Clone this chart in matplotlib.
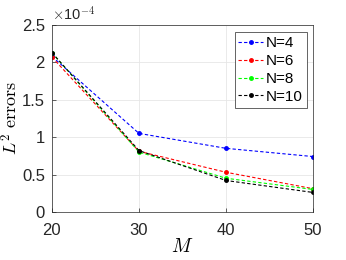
import matplotlib.pyplot as plt
import numpy as np

plt.rcParams['font.family'] = ['Liberation Sans', 'DejaVu Sans']
plt.rcParams['mathtext.fontset'] = 'cm'

# data (errors in units of 1e-4)
M = np.array([20, 30, 40, 50])
err_n4 = np.array([2.08, 1.05, 0.85, 0.74])
err_n6 = np.array([2.07, 0.81, 0.53, 0.31])
err_n8 = np.array([2.13, 0.80, 0.45, 0.30])
err_n10 = np.array([2.13, 0.82, 0.42, 0.26])
labels = ['N=4', 'N=6', 'N=8', 'N=10']
colors = ['blue', 'red', 'lime', 'black']

fig = plt.figure(figsize=(3.46, 2.6), dpi=100)
ax = fig.add_axes([0.150, 0.185, 0.755, 0.719])

for y, lab, c in zip([err_n4, err_n6, err_n8, err_n10], labels, colors):
    ax.plot(M, y, color=c, linestyle=(0, (3, 2)), marker='o', markersize=2.5,
            linewidth=0.8, label=lab)

ax.set_xlim(20, 50)
ax.set_ylim(0, 2.5)
ax.set_xticks([20, 30, 40, 50])
ax.set_yticks([0, 0.5, 1, 1.5, 2, 2.5])
ax.set_yticklabels(['0', '0.5', '1', '1.5', '2', '2.5'])
ax.tick_params(labelsize=12, direction='in', length=3, width=0.5,
               colors='#262626', pad=5)
ax.tick_params(axis='x', pad=8)
ax.grid(True, color='#e6e6e6', linewidth=0.6)
for s in ax.spines.values():
    s.set_color('#262626')
    s.set_linewidth(0.5)

ax.set_xlabel(r'$M$', fontsize=14, labelpad=0)
ax.set_ylabel(r'$L^2\ \mathrm{errors}$', fontsize=13)
ax.yaxis.set_label_coords(-0.115, 0.5)
ax.text(0.0, 1.01, r'$\times$10$^{-4}$', transform=ax.transAxes,
        fontsize=10.5, ha='left', va='bottom', color='#262626',
        family=['Liberation Sans'])

leg = ax.legend(loc='upper right', fontsize=11, handlelength=1.6,
                handletextpad=0.2, borderpad=0.25, labelspacing=0.25,
                borderaxespad=0, fancybox=False, framealpha=1,
                edgecolor='#262626', bbox_to_anchor=(0.975, 0.96))
leg.get_frame().set_linewidth(0.5)

fig.savefig('out.png', dpi=100)
